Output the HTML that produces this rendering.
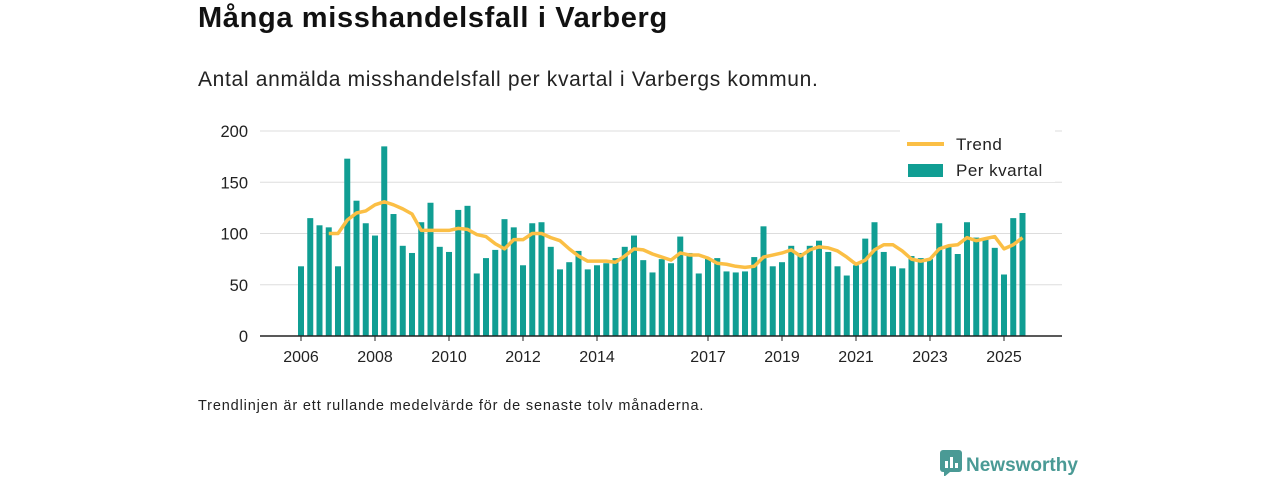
<!DOCTYPE html>
<html><head><meta charset="utf-8"><style>
body{margin:0;background:#fff;font-family:"Liberation Sans","DejaVu Sans",sans-serif;}
#wrap{position:relative;width:1280px;height:480px;overflow:hidden;}
h1{position:absolute;left:198px;top:2px;margin:0;font-size:29px;font-weight:bold;color:#111;letter-spacing:0.65px;}
.sub{position:absolute;left:198px;top:68px;font-size:21px;color:#222;letter-spacing:0.68px;}
.note{position:absolute;left:198px;top:398px;font-size:14.5px;color:#222;letter-spacing:0.85px;}
.logo{position:absolute;left:940px;top:450px;font-size:19px;font-weight:bold;color:#4a9a95;}
</style></head><body><div id="wrap">
<h1>Många misshandelsfall i Varberg</h1>
<div class="sub">Antal anmälda misshandelsfall per kvartal i Varbergs kommun.</div>
<svg id="chart" width="1280" height="480" style="position:absolute;left:0;top:0"></svg>
<div class="note">Trendlinjen är ett rullande medelvärde för de senaste tolv månaderna.</div>
<div class="logo"><svg width="22" height="26" style="vertical-align:-5px;margin-right:4px"><rect x="0" y="0" width="22" height="22" rx="3" fill="#4a9a95"/><polygon points="4,22 10,22 4,27" fill="#4a9a95"/><rect x="5" y="11" width="3" height="7" fill="#fff"/><rect x="10" y="7" width="3" height="11" fill="#fff"/><rect x="15" y="13" width="3" height="5" fill="#fff"/></svg>Newsworthy</div>
</div>
<script>
const startYear = 2006;
const values = [68,115,108,106, 68,173,132,110, 98,185,119,88, 81,111,130,87, 82,123,127,61, 76,84,114,106, 69,110,111,87, 65,72,83,65, 69,71,76,87, 98,74,62,75, 71,97,81,61, 76,76,63,62, 63,77,107,68, 72,88,81,88, 93,82,68,59, 69,95,111,82, 68,66,78,76, 75,110,88,80, 111,96,94,86, 60,115,120];
const trendStart = 3;
const trend = [100, 100,113,120,122, 128,131,128,124, 119,103,103,103, 103,105,104,99, 97,90,85,94, 94,100,100,96, 93,85,78,73, 73,73,72,78, 85,84,80,77, 74,81,79,79, 76,71,70,68, 67,68,77,79, 81,84,78,84, 87,86,83,77, 70,74,84,89, 89,83,75,73, 75,85,88,89, 96,93,95,97, 85,89,96];
const yTicks = [0,50,100,150,200];
const xTickYears = [2006,2008,2010,2012,2014,2017,2019,2021,2023,2025];
const NS="http://www.w3.org/2000/svg";
const svg=document.getElementById('chart');
const x0=301, pxYear=37, y0=336, pxUnit=1.025;
const xq=i=>x0+i*pxYear/4;
const xy=yr=>x0+(yr-startYear)*pxYear;
const y=v=>y0-v*pxUnit;
function mk(t,a){const e=document.createElementNS(NS,t);for(const k in a)e.setAttribute(k,a[k]);svg.appendChild(e);return e;}
yTicks.forEach(v=>{
  if(v>0){const g=mk('line',{x1:260,x2:1062,y1:y(v),y2:y(v),stroke:'#ddd','stroke-width':1});
  
  }
  const t=mk('text',{x:248,y:y(v)+6,'text-anchor':'end','font-size':16.5,fill:'#222','font-family':'Liberation Sans, sans-serif'});
  t.textContent=v;
  
  
});
values.forEach((v,i)=>{
  const r=mk('rect',{x:xq(i)-3,y:y(v),width:6,height:v*pxUnit,fill:'#109e93'});
  
  
});
const ax=mk('line',{x1:260,x2:1062,y1:y0,y2:y0,stroke:'#222','stroke-width':1.5});


xTickYears.forEach(yr=>{
  const tk=mk('line',{x1:xy(yr),x2:xy(yr),y1:y0,y2:y0+5,stroke:'#222'});
  
  
  const t=mk('text',{x:xy(yr),y:y0+26,'text-anchor':'middle','font-size':16,fill:'#222','font-family':'Liberation Sans, sans-serif'});
  t.textContent=yr;
  
  
});
const pts=trend.map((v,i)=>xq(i+trendStart)+','+y(v)).join(' ');
const pl=mk('polyline',{points:pts,fill:'none',stroke:'#fbbf45','stroke-width':3.5,'stroke-linejoin':'round'});


const lb=mk('rect',{x:900,y:130,width:155,height:52,fill:'#fff'});


const l1=mk('line',{x1:907,x2:944,y1:144,y2:144,stroke:'#fbbf45','stroke-width':4});


const t1=mk('text',{x:956,y:150,'font-size':17,fill:'#222','font-family':'Liberation Sans, sans-serif','letter-spacing':0.5});t1.textContent='Trend';


const r2=mk('rect',{x:908,y:164,width:35,height:13,fill:'#109e93'});


const t2=mk('text',{x:956,y:176,'font-size':17,fill:'#222','font-family':'Liberation Sans, sans-serif','letter-spacing':0.5});t2.textContent='Per kvartal';


</script></body></html>
